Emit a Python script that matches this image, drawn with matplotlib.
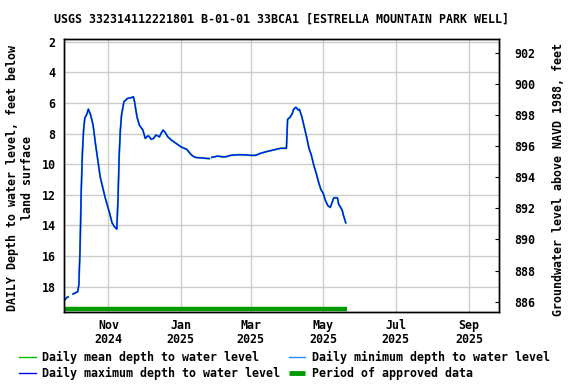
import numpy as np
import pandas as pd
import matplotlib
matplotlib.use("Agg")
import matplotlib.pyplot as plt
import matplotlib.dates as mdates

# ---------------- data ----------------
dates = [
    "2024-09-25", "2024-09-27", "2024-09-28", "2024-09-30", "2024-10-02", "2024-10-04",
    "2024-10-06", "2024-10-07", "2024-10-08", "2024-10-09", "2024-10-10", "2024-10-11",
    "2024-10-12", "2024-10-14", "2024-10-15", "2024-10-17", "2024-10-19", "2024-10-21",
    "2024-10-23", "2024-10-25", "2024-10-27", "2024-10-29", "2024-10-31", "2024-11-02",
    "2024-11-04", "2024-11-06", "2024-11-08", "2024-11-09", "2024-11-10", "2024-11-11",
    "2024-11-12", "2024-11-14", "2024-11-17", "2024-11-20", "2024-11-22", "2024-11-23",
    "2024-11-25", "2024-11-27", "2024-11-30", "2024-12-02", "2024-12-04", "2024-12-05",
    "2024-12-07", "2024-12-09", "2024-12-11", "2024-12-14", "2024-12-15", "2024-12-17",
    "2024-12-19", "2024-12-21", "2024-12-24", "2024-12-28", "2025-01-01", "2025-01-06",
    "2025-01-10", "2025-01-13", "2025-01-17", "2025-01-23", "2025-01-25", "2025-01-26",
    "2025-01-27", "2025-02-01", "2025-02-05", "2025-02-08", "2025-02-12", "2025-02-18",
    "2025-02-23", "2025-03-01", "2025-03-05", "2025-03-09", "2025-03-15", "2025-03-20",
    "2025-03-26", "2025-03-31", "2025-04-01", "2025-04-03", "2025-04-05", "2025-04-06",
    "2025-04-08", "2025-04-10", "2025-04-11", "2025-04-13", "2025-04-15", "2025-04-17",
    "2025-04-19", "2025-04-21", "2025-04-23", "2025-04-25", "2025-04-27", "2025-04-29",
    "2025-05-01", "2025-05-03", "2025-05-05", "2025-05-07", "2025-05-09", "2025-05-10",
    "2025-05-13", "2025-05-14", "2025-05-17", "2025-05-18", "2025-05-20",
]
depth_mean = [
    18.87, 18.70, 18.66, None, 18.48, 18.40,
    18.33, 17.89, 15.61, 11.82, 9.29, 7.77,
    7.00, 6.68, 6.40, 6.79, 7.44, 8.64,
    9.73, 10.82, 11.47, 12.12, 12.67, 13.21,
    13.82, 14.08, 14.23, 12.34, 9.47, 7.77,
    6.79, 5.92, 5.70, 5.66, 5.59, 5.92,
    6.90, 7.44, 7.77, 8.31, 8.16, 8.16,
    8.37, 8.31, 8.09, 8.21, 8.03, 7.77,
    7.94, 8.21, 8.42, 8.64, 8.86, 9.03,
    9.40, 9.55, 9.58, 9.62, 9.63, None,
    9.55, 9.47, 9.51, 9.51, 9.42, 9.38,
    9.38, 9.42, 9.42, 9.29, 9.16, 9.07,
    8.96, 8.96, 7.07, 6.94, 6.68, 6.42,
    6.28, 6.46, 6.42, 6.90, 7.55, 8.21,
    8.96, 9.40, 10.05, 10.56, 11.14, 11.64,
    11.90, 12.39, 12.71, 12.82, 12.39, 12.19,
    12.19, 12.60, 12.99, 13.32, 13.82,
]
depth_max = depth_mean
depth_min = depth_mean

approved_start = "2024-09-24 12:00"
approved_end = "2025-05-21 00:00"
approved_depth = 19.44

x_ticks = ["2024-11-01", "2025-01-01", "2025-03-01", "2025-05-01", "2025-07-01", "2025-09-01"]
x_tick_labels = ["Nov\n2024", "Jan\n2025", "Mar\n2025", "May\n2025", "Jul\n2025", "Sep\n2025"]
x_limits = ["2024-09-24 12:00", "2025-09-26 05:00"]
left_ticks = [2, 4, 6, 8, 10, 12, 14, 16, 18]
left_limits = (19.63, 1.84)
right_ticks = [886, 888, 890, 892, 894, 896, 898, 900, 902]
right_limits = (885.36, 902.86)

title = "USGS 332314112221801 B-01-01 33BCA1 [ESTRELLA MOUNTAIN PARK WELL]"
left_label = "DAILY Depth to water level, feet below\nland surface"
right_label = "Groundwater level above NAVD 1988, feet"

# ---------------- plotting ----------------
FONT = "DejaVu Sans Mono"
FS = 8.4
plt.rcParams["font.family"] = FONT
plt.rcParams["font.weight"] = "bold"
plt.rcParams["font.size"] = FS

t = pd.to_datetime(dates)
ymean = np.array([np.nan if v is None else v for v in depth_mean], dtype=float)
ymax = np.array([np.nan if v is None else v for v in depth_max], dtype=float)
ymin = np.array([np.nan if v is None else v for v in depth_min], dtype=float)

fig = plt.figure(figsize=(5.76, 3.84), dpi=100)
ax = fig.add_axes([64 / 576, 1 - 311.7 / 384, 435 / 576, 272.4 / 384])

c_mean = "#00bb00"
c_min = "#1e90ff"
c_max = "#0000ff"
c_appr = "#009900"

ax.plot(t, ymean, color=c_mean, lw=1.3, zorder=3, label="Daily mean depth to water level")
ax.plot(t, ymin, color=c_min, lw=1.05, zorder=4, label="Daily minimum depth to water level")
ax.plot(t, ymax, color=c_max, lw=0.75, zorder=5, label="Daily maximum depth to water level")
ax.plot(pd.to_datetime([approved_start, approved_end]), [approved_depth, approved_depth],
        color=c_appr, lw=3.2, solid_capstyle="butt", zorder=6, label="Period of approved data")

ax.set_xlim(pd.to_datetime(x_limits[0]), pd.to_datetime(x_limits[1]))
ax.set_ylim(*left_limits)
ax.set_xticks(pd.to_datetime(x_ticks))
ax.set_xticklabels(x_tick_labels, fontsize=FS, fontweight="bold", linespacing=1.1)
ax.set_yticks(left_ticks)
ax.set_yticklabels([str(v) for v in left_ticks], fontsize=FS, fontweight="bold")
ax.tick_params(axis="both", length=0)
ax.tick_params(axis="x", pad=5)
ax.tick_params(axis="y", pad=6)
ax.grid(True, color="#cccccc", lw=1.0, zorder=0)
ax.set_axisbelow(True)
for s in ax.spines.values():
    s.set_linewidth(1.0)
    s.set_color("black")
    s.set_zorder(10)

ax2 = ax.twinx()
ax2.set_ylim(*right_limits)
ax2.set_yticks(right_ticks)
ax2.set_yticklabels([str(v) for v in right_ticks], fontsize=FS, fontweight="bold")
ax2.tick_params(axis="y", direction="in", length=3, width=0.8, pad=11)
for s in ax2.spines.values():
    s.set_linewidth(1.0)

fig.text(281.5 / 576, 1 - 19 / 384, title, ha="center", va="center", fontsize=FS, fontweight="bold")
fig.text(20 / 576, 1 - 178 / 384, left_label, ha="center", va="center", rotation=90,
         multialignment="center", fontsize=FS, fontweight="bold", linespacing=1.2)
fig.text(558 / 576, 1 - 180 / 384, right_label, ha="center", va="center", rotation=90,
         fontsize=FS, fontweight="bold")

h, l = ax.get_legend_handles_labels()
order = [0, 2, 1, 3]
leg = fig.legend([h[i] for i in order], [l[i] for i in order], ncol=2,
                 loc="upper left", bbox_to_anchor=(19 / 576, 1 - 350.5 / 384),
                 frameon=False, borderpad=0, borderaxespad=0, handlelength=1.45,
                 handletextpad=0.55, columnspacing=0.7, labelspacing=0.28,
                 prop={"family": FONT, "weight": "bold", "size": FS})
for line in leg.get_lines():
    line.set_linewidth(1.0)
leg.get_lines()[3].set_linewidth(3.5)

fig.savefig("out.png", dpi=100)
